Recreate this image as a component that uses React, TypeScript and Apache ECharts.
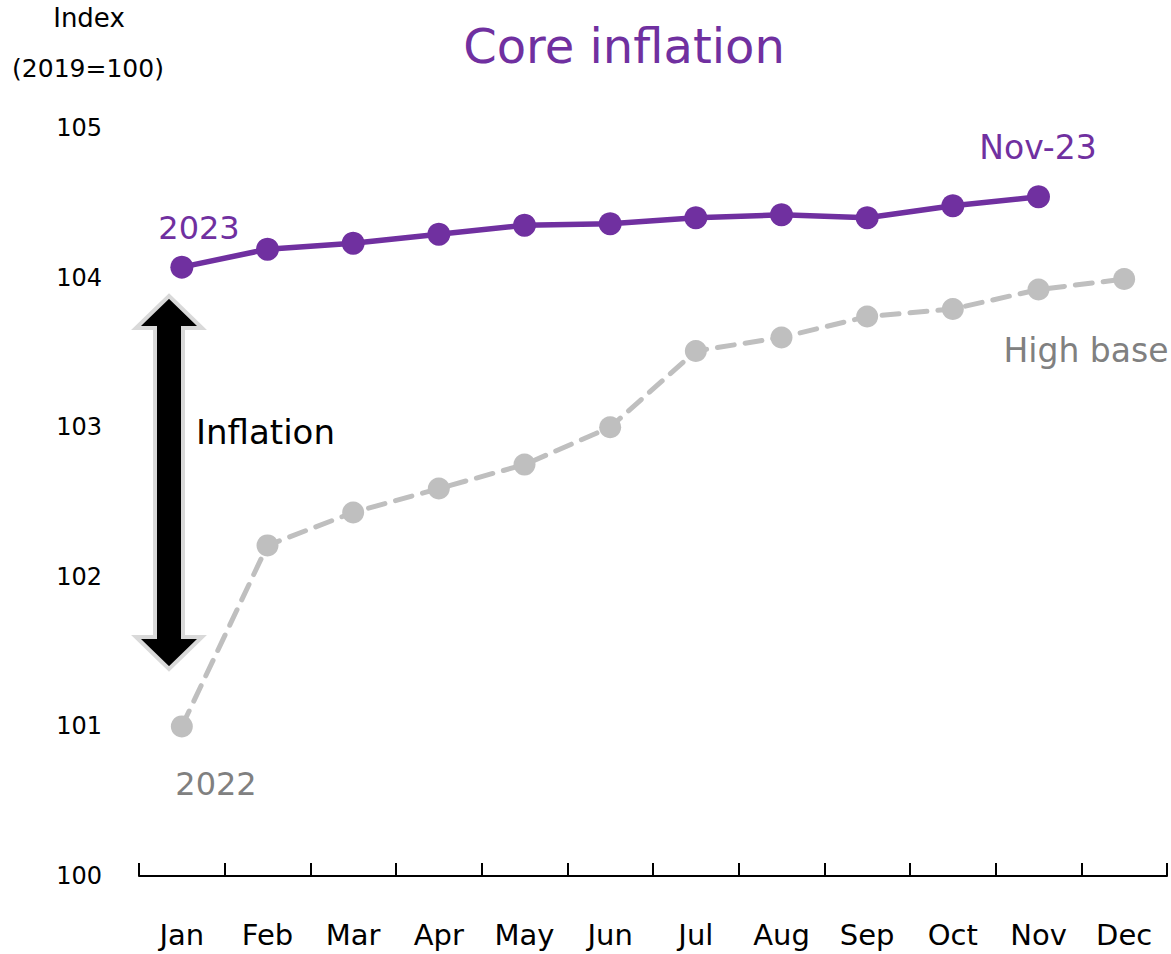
import React, { useEffect, useRef } from "react";
import * as echarts from "echarts";

const months = ["Jan", "Feb", "Mar", "Apr", "May", "Jun", "Jul", "Aug", "Sep", "Oct", "Nov", "Dec"];
const core2023 = [104.07, 104.19, 104.23, 104.29, 104.35, 104.36, 104.4, 104.42, 104.4, 104.48, 104.54];
const core2022 = [101.0, 102.21, 102.43, 102.59, 102.75, 103.0, 103.51, 103.6, 103.74, 103.79, 103.92, 103.99];
const yTicks = [100, 101, 102, 103, 104, 105];

const PURPLE = "#7030A0";
const GRAY_LINE = "#BFBFBF";
const GRAY_TEXT = "#808080";
const FONT = "DejaVu Sans";

function txt(x: number, y: number, text: string, fill: string, size: number, align = "center") {
  return {
    type: "text",
    x,
    y,
    z: 10,
    style: {
      text,
      fill,
      fontSize: size,
      fontFamily: FONT,
      textAlign: align,
      textVerticalAlign: "middle",
    },
  };
}

export default function App() {
  const ref = useRef<HTMLDivElement>(null);
  useEffect(() => {
    if (!ref.current) return;
    const chart = echarts.init(ref.current, undefined, { renderer: "svg" });
    const arrowPts = [
      [169, 296],
      [202, 328],
      [183, 328],
      [183, 637],
      [202, 637],
      [169, 669],
      [136, 637],
      [155, 637],
      [155, 328],
      [136, 328],
    ];
    chart.setOption({
      animation: false,
      backgroundColor: "#ffffff",
      textStyle: { fontFamily: FONT },
      grid: { left: 139, right: 4, top: 128, bottom: 78, containLabel: false },
      title: {
        text: "Core inflation",
        left: 619,
        top: 17,
        textAlign: "center",
        textStyle: { color: PURPLE, fontSize: 48, fontWeight: "normal", fontFamily: FONT },
      },
      xAxis: {
        type: "category",
        data: months,
        boundaryGap: true,
        axisLine: { show: true, lineStyle: { color: "#000", width: 2 } },
        axisTick: { show: true, inside: true, length: 13, lineStyle: { color: "#000", width: 2 } },
        axisLabel: { color: "#000", fontSize: 29, margin: 44, fontFamily: FONT },
        splitLine: { show: false },
      },
      yAxis: {
        type: "value",
        min: yTicks[0],
        max: yTicks[yTicks.length - 1],
        interval: 1,
        axisLine: { show: false },
        axisTick: { show: false },
        splitLine: { show: false },
        axisLabel: { color: "#000", fontSize: 24, margin: 37, fontFamily: FONT },
      },
      series: [
        {
          name: "2022",
          type: "line",
          data: core2022,
          symbol: "circle",
          symbolSize: 22,
          lineStyle: { color: GRAY_LINE, width: 5, type: [17, 11], cap: "round" },
          itemStyle: { color: GRAY_LINE },
          z: 2,
        },
        {
          name: "2023",
          type: "line",
          data: core2023,
          symbol: "circle",
          symbolSize: 23,
          lineStyle: { color: PURPLE, width: 5.5 },
          itemStyle: { color: PURPLE },
          z: 3,
        },
      ],
      graphic: [
        txt(89, 18, "Index", "#000", 26),
        txt(88, 68, "(2019=100)", "#000", 25),
        {
          type: "polygon",
          shape: { points: arrowPts },
          style: { fill: "#000", stroke: "#D9D9D9", lineWidth: 4 },
          z: 10,
        },
        txt(196, 432, "Inflation", "#000", 34, "left"),
        txt(199, 228, "2023", PURPLE, 32),
        txt(1038, 147, "Nov-23", PURPLE, 33),
        txt(1086, 350, "High base", GRAY_TEXT, 33),
        txt(216, 784, "2022", GRAY_TEXT, 32),
      ],
    });
    return () => chart.dispose();
  }, []);
  return (
    <div
      ref={ref}
      style={{ position: "fixed", left: 0, top: 0, width: 1171, height: 954, background: "#fff" }}
    />
  );
}
